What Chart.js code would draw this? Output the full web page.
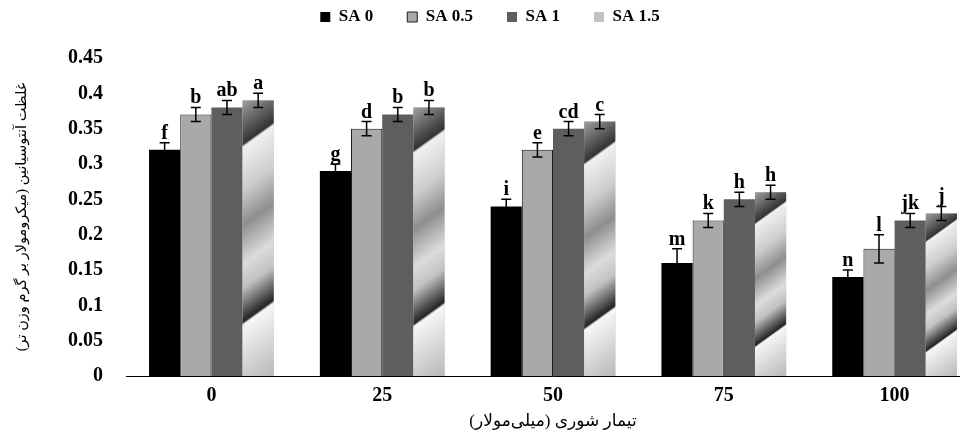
<!DOCTYPE html>
<html><head><meta charset="utf-8">
<script src="https://cdn.jsdelivr.net/npm/chart.js@4.4.1/dist/chart.umd.min.js"></script>
<style>
html,body{margin:0;padding:0;background:#fff;overflow:hidden;width:960px;height:440px}
#wrap{position:relative;width:980px;height:440px}
</style></head>
<body><div id="wrap"><canvas id="c"></canvas></div>
<script>
const categories = ['0', '25', '50', '75', '100'];
const seriesNames = ['SA 0', 'SA 0.5', 'SA 1', 'SA 1.5'];
const sa0  = [0.32, 0.29, 0.24, 0.16, 0.14];
const sa05 = [0.37, 0.35, 0.32, 0.22, 0.18];
const sa1  = [0.38, 0.37, 0.35, 0.25, 0.22];
const sa15 = [0.39, 0.38, 0.36, 0.26, 0.23];
const err0  = [0.01, 0.01, 0.01, 0.02, 0.01];
const err05 = [0.01, 0.01, 0.01, 0.01, 0.02];
const err1  = [0.01, 0.01, 0.01, 0.01, 0.01];
const err15 = [0.01, 0.01, 0.01, 0.01, 0.01];
const let0  = ['f', 'g', 'i', 'm', 'n'];
const let05 = ['b', 'd', 'e', 'k', 'l'];
const let1  = ['ab', 'b', 'cd', 'h', 'jk'];
const let15 = ['a', 'b', 'c', 'h', 'j'];
const yTickLabels = ['0', '0.05', '0.1', '0.15', '0.2', '0.25', '0.3', '0.35', '0.4', '0.45'];
const yTitle = 'غلظت آنتوسیانین (میکرومولار بر گرم وزن تر)';
const xTitle = 'تیمار شوری (میلی‌مولار)';

const values = [sa0, sa05, sa1, sa15];
const errors = [err0, err05, err1, err15];
const letters = [let0, let05, let1, let15];

const serif = '"Liberation Serif", "Times New Roman", serif';
const arabicFont = '"Liberation Serif", "DejaVu Sans", serif';

const overlay = {
  id: 'overlay',
  afterDatasetsDraw(chart) {
    const ctx = chart.ctx;
    const ys = chart.scales.y;
    ctx.save();
    chart.getDatasetMeta(3).data.forEach(el => {
      const w = el.width, x0 = el.x - w / 2, top = el.y, H = el.base - el.y;
      const k = (0.72 * w + H) / 1.5184;
      const g = ctx.createLinearGradient(x0, top, x0 + 0.72 * k, top + k);
      g.addColorStop(0.0, '#a0a0a0');
      g.addColorStop(0.148, '#333333');
      g.addColorStop(0.158, '#f0f0f0');
      g.addColorStop(0.30, '#cdcdcd');
      g.addColorStop(0.42, '#8e8e8e');
      g.addColorStop(0.55, '#dcdcdc');
      g.addColorStop(0.63, '#c2c2c2');
      g.addColorStop(0.745, '#242424');
      g.addColorStop(0.755, '#f6f6f6');
      g.addColorStop(1.0, '#b8b8b8');
      ctx.fillStyle = g;
      ctx.fillRect(x0, top, w, H);
    });
    for (let d = 0; d < 4; d++) {
      const meta = chart.getDatasetMeta(d);
      meta.data.forEach((el, j) => {
        const v = values[d][j], e = errors[d][j];
        const yt = ys.getPixelForValue(v + e), yb = ys.getPixelForValue(v - e);
        ctx.strokeStyle = '#000';
        ctx.lineWidth = 1.5;
        ctx.beginPath();
        ctx.moveTo(el.x, yt); ctx.lineTo(el.x, yb);
        ctx.moveTo(el.x - 5, yt); ctx.lineTo(el.x + 5, yt);
        ctx.moveTo(el.x - 5, yb); ctx.lineTo(el.x + 5, yb);
        ctx.stroke();
        ctx.fillStyle = '#000';
        ctx.font = 'bold 20px ' + serif;
        ctx.textAlign = 'center';
        ctx.textBaseline = 'alphabetic';
        ctx.fillText(letters[d][j], el.x, yt - 4);
      });
    }
    ctx.restore();
  }
};

new Chart(document.getElementById('c'), {
  type: 'bar',
  data: {
    labels: categories,
    datasets: [
      { label: seriesNames[0], data: sa0, backgroundColor: '#000000', borderWidth: 0 },
      { label: seriesNames[1], data: sa05, backgroundColor: '#a9a9a9', borderColor: '#1a1a1a', borderWidth: 1 },
      { label: seriesNames[2], data: sa1, backgroundColor: '#5e5e5e', borderWidth: 0 },
      { label: seriesNames[3], data: sa15, backgroundColor: '#c2c2c2', borderWidth: 0 }
    ]
  },
  options: {
    responsive: true,
    maintainAspectRatio: false,
    animation: false,
    layout: { padding: { left: 0, right: 0, top: 0, bottom: 0 } },
    datasets: { bar: { barPercentage: 1, categoryPercentage: 0.73 } },
    plugins: {
      legend: {
        position: 'top',
        weight: 3000,
        labels: {
          boxWidth: 10, boxHeight: 10, padding: 8.5, color: '#000',
          font: { family: serif, weight: 'bold', size: 17 },
          generateLabels(chart) {
            const items = Chart.defaults.plugins.legend.labels.generateLabels(chart);
            items.forEach((it, i) => { if (i < items.length - 1) it.text = it.text + '      '; });
            return items;
          }
        }
      },
      subtitle: { display: true, text: ' ', weight: 1500, font: { size: 10 }, padding: { top: 0, bottom: 10.5 } },
      tooltip: { enabled: false }
    },
    scales: {
      x: {
        grid: { display: false, drawTicks: false },
        border: { display: true, color: '#000', width: 1 },
        ticks: { color: '#000', padding: 8, font: { family: serif, weight: 'bold', size: 20 } },
        title: { display: true, text: xTitle, color: '#000', font: { family: arabicFont, size: 17 }, padding: { top: 0, bottom: 8 } },
        afterFit(s) { s.height = 64; }
      },
      y: {
        min: 0, max: 0.45,
        grid: { display: false, drawTicks: false },
        border: { display: false },
        ticks: {
          stepSize: 0.05, color: '#000', padding: 23,
          font: { family: serif, weight: 'bold', size: 20 },
          callback: (v) => yTickLabels[Math.round(v / 0.05)]
        },
        title: { display: true, text: yTitle, color: '#000', font: { family: arabicFont, size: 14.5 }, padding: { top: 13, bottom: 0 } },
        afterFit(s) { s.width = 126; }
      }
    }
  },
  plugins: [overlay]
});
</script>
</body></html>
